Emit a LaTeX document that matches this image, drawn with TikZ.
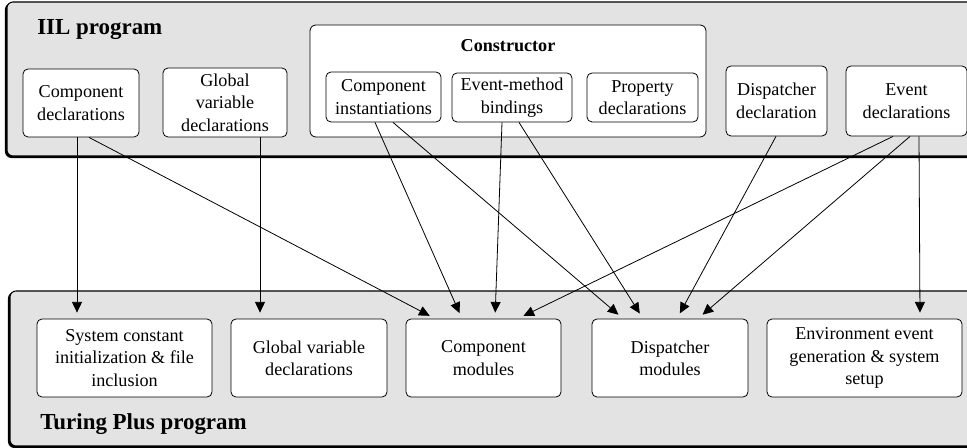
\documentclass[tikz,border=0pt]{standalone}
\usepackage{fontspec}
\setmainfont{Liberation Serif}
\usetikzlibrary{arrows.meta, calc}
\definecolor{panelgray}{gray}{0.89}
\tikzstyle{program} = [draw=black, line width=0.8pt, rounded corners=4.5pt, fill=panelgray]
\tikzstyle{shadow} = [draw=black, line width=0.8pt, rounded corners=4.5pt, fill=black]
\tikzstyle{part} = [rectangle, rounded corners=3.75pt, draw=black, line width=0.6pt, fill=white, align=center, inner sep=2pt, font=\fontsize{13.6}{16.8}\selectfont]
\tikzstyle{title} = [anchor=base west, inner sep=0pt, font=\bfseries\fontsize{17.2}{20}\selectfont]
\tikzstyle{arrow} = [line width=0.6pt, -{Triangle[length=8pt,width=7.5pt]}, shorten >=4.5pt]

\begin{document}
\begin{tikzpicture}[x=0.75pt, y=-0.75pt]
	\clip (0,0) rectangle (967,448);
	% IIL program
	\draw [shadow] (5.5,3.5) rectangle (990,157.5);
	\draw [program] (7,2) rectangle (990,156);
	\node (iil) [title] at (37,35) {IIL program};
	\node (cdecl) [part, minimum width=87pt, minimum height=51pt] at (81,103) {Component\\declarations};
	\node (gdecl) [part, minimum width=93pt, minimum height=51.75pt] at (225,102.5) {Global\\variable\\declarations};
	\node (ctor) [part, rounded corners=4.5pt, minimum width=297pt, minimum height=84pt] at (508,81) {};
	\node (ctorlabel) [font=\bfseries\fontsize{13.6}{16}\selectfont] at (508,46) {Constructor};
	\node (cinst) [part, minimum width=86.25pt, minimum height=37.5pt] at (383.5,97) {Component\\instantiations};
	\node (embind) [part, minimum width=90pt, minimum height=36.75pt] at (512,97.5) {Event-method\\bindings};
	\node (pdecl) [part, minimum width=83.25pt, minimum height=36.75pt] at (642.5,97.5) {Property\\declarations};
	\node (ddecl) [part, minimum width=75.75pt, minimum height=52.5pt] at (776.5,101) {Dispatcher\\declaration};
	\node (edecl) [part, minimum width=90.75pt, minimum height=52.5pt] at (906.5,101) {Event\\declarations};
	% Turing Plus program
	\draw [shadow] (8.5,292.5) rectangle (990,447.5);
	\draw [program] (10,291) rectangle (990,446);
	\node (tplus) [title] at (40,430) {Turing Plus program};
	\node (sysc) [part, minimum width=131.25pt, minimum height=58.5pt] at (124.5,358) {System constant\\initialization \& file\\inclusion};
	\node (gvar) [part, minimum width=117pt, minimum height=58.5pt] at (309,358) {Global variable\\declarations};
	\node (cmod) [part, minimum width=116.25pt, minimum height=58.5pt] at (483.5,358) {Component\\modules};
	\node (dmod) [part, minimum width=117pt, minimum height=58.5pt] at (670,358) {Dispatcher\\modules};
	\node (env) [part, minimum width=146.25pt, minimum height=58.5pt] at (864.5,358) {Environment event\\generation \& system\\setup};
	% translation arrows
	\draw [arrow] ($(cdecl.south)+(-4,0)$) -- ($(sysc.north)+(-47.5,0)$);
	\draw [arrow] ($(cdecl.south)+(8,0)$) -- ($(cmod.north)+(-48.5,0)$);
	\draw [arrow] ($(gdecl.south)+(35,0)$) -- ($(gvar.north)+(-49,0)$);
	\draw [arrow] ($(cinst.south)+(-8.5,0)$) -- ($(cmod.north)+(-21.5,0)$);
	\draw [arrow] ($(cinst.south)+(9.5,0)$) -- ($(dmod.north)+(-47,0)$);
	\draw [arrow] ($(embind.south)+(-10,0)$) -- ($(cmod.north)+(11.5,0)$);
	\draw [arrow] ($(embind.south)+(7,0)$) -- ($(dmod.north)+(-27,0)$);
	\draw [arrow] ($(ddecl.south)+(-0.5,0)$) -- ($(dmod.north)+(7,0)$);
	\draw [arrow] ($(edecl.south)+(-13.5,0)$) -- ($(cmod.north)+(34.5,0)$);
	\draw [arrow] ($(edecl.south)+(3.5,0)$) -- ($(dmod.north)+(28,0)$);
	\draw [arrow] ($(edecl.south)+(12.5,0)$) -- ($(env.north)+(55.5,0)$);
\end{tikzpicture}
\end{document}
